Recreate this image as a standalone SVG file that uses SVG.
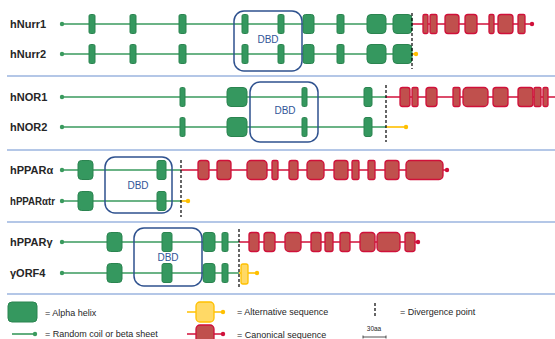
<svg xmlns="http://www.w3.org/2000/svg" width="555" height="339" viewBox="0 0 555 339">
<style>
.lbl{font-family:"Liberation Sans",Arial,sans-serif;font-size:11px;font-weight:bold;fill:#262626}
.leg{font-family:"Liberation Sans",Arial,sans-serif;font-size:9px;fill:#262626}
.dbdt{font-family:"Liberation Sans",Arial,sans-serif;font-size:10px;fill:#2f5597;text-anchor:middle}
.gl{stroke:#3a9a5e;stroke-width:1.6;fill:none}
.rl{stroke:#d0103a;stroke-width:1.6;fill:none}
.yl{stroke:#ffc000;stroke-width:1.6;fill:none}
.g rect,rect.g{fill:#35985f;stroke:#2b8450;stroke-width:1}
.r rect,rect.r{fill:#c0504d;stroke:#d0103a;stroke-width:1.3}
rect.y{fill:#ffd966;stroke:#ffc000;stroke-width:1.3}
.gd{fill:#3a9a5e}
.rd{fill:#d0103a}
.yd{fill:#ffc000}
.dbd{fill:none;stroke:#2f528f;stroke-width:1.5}
.div{stroke:#000;stroke-width:1.2;stroke-dasharray:3,2}
.sep{stroke:#b4c7e7;stroke-width:2}
</style>

<g id="separators">
<line class="sep" x1="7" y1="76" x2="555" y2="76"/>
<line class="sep" x1="7" y1="150" x2="555" y2="150"/>
<line class="sep" x1="7" y1="222" x2="555" y2="222"/>
<line class="sep" x1="7" y1="294" x2="555" y2="294"/>
</g>

<!-- hNurr -->
<g id="hNurr1">
<text class="lbl" x="10" y="28">hNurr1</text>
<line class="gl" x1="62" y1="24" x2="412" y2="24"/>
<circle class="gd" cx="62" cy="24" r="2.2"/>
<line class="rl" x1="412" y1="24" x2="532" y2="24"/>
<circle class="rd" cx="532" cy="24" r="2.2"/>
<g class="g">
<rect x="89" y="14.5" width="6" height="19" rx="1.5"/>
<rect x="130" y="14.5" width="6" height="19" rx="1.5"/>
<rect x="179" y="14.5" width="7" height="19" rx="1.5"/>
<rect x="242" y="14.5" width="6" height="19" rx="1.5"/>
<rect x="278" y="14.5" width="6" height="19" rx="1.5"/>
<rect x="303" y="14.5" width="11" height="19" rx="2.5"/>
<rect x="337" y="14.5" width="7" height="19" rx="1.5"/>
<rect x="367" y="14.5" width="19" height="19" rx="4"/>
<rect x="393" y="14.5" width="19" height="19" rx="4"/>
</g>
<g class="r">
<rect x="423" y="14.5" width="5" height="19" rx="1.5"/>
<rect x="430" y="14.5" width="7" height="19" rx="1.5"/>
<rect x="445" y="14.5" width="14" height="19" rx="3"/>
<rect x="465" y="14.5" width="12" height="19" rx="3"/>
<rect x="489" y="14.5" width="5" height="19" rx="1.5"/>
<rect x="498" y="14.5" width="15" height="19" rx="3"/>
<rect x="518" y="14.5" width="7" height="19" rx="1.5"/>
</g>
</g>
<g id="hNurr2">
<text class="lbl" x="10" y="58">hNurr2</text>
<line class="gl" x1="62" y1="54" x2="412" y2="54"/>
<circle class="gd" cx="62" cy="54" r="2.2"/>
<line class="yl" x1="412" y1="54" x2="416" y2="54"/>
<circle class="yd" cx="416" cy="54" r="2.2"/>
<g class="g">
<rect x="89" y="44.5" width="6" height="19" rx="1.5"/>
<rect x="130" y="44.5" width="6" height="19" rx="1.5"/>
<rect x="179" y="44.5" width="7" height="19" rx="1.5"/>
<rect x="242" y="44.5" width="6" height="19" rx="1.5"/>
<rect x="278" y="44.5" width="6" height="19" rx="1.5"/>
<rect x="303" y="44.5" width="11" height="19" rx="2.5"/>
<rect x="337" y="44.5" width="7" height="19" rx="1.5"/>
<rect x="367" y="44.5" width="19" height="19" rx="4"/>
<rect x="393" y="44.5" width="19" height="19" rx="4"/>
</g>
</g>
<g id="dbd-nurr">
<rect class="dbd" x="234" y="11" width="68" height="60" rx="10"/>
<text class="dbdt" x="268" y="43">DBD</text>
</g>
<line id="div-nurr" class="div" x1="412" y1="13" x2="412" y2="69"/>

<!-- hNOR -->
<g id="hNOR1">
<text class="lbl" x="10" y="101">hNOR1</text>
<line class="gl" x1="62" y1="97" x2="386" y2="97"/>
<circle class="gd" cx="62" cy="97" r="2.2"/>
<line class="rl" x1="386" y1="97" x2="555" y2="97"/>
<g class="g">
<rect x="180" y="87.5" width="5" height="19" rx="1.5"/>
<rect x="227" y="87.5" width="20" height="19" rx="4"/>
<rect x="302" y="87.5" width="5" height="19" rx="1.5"/>
<rect x="364" y="87.5" width="8" height="19" rx="2"/>
</g>
<g class="r">
<rect x="400" y="87.5" width="10" height="19" rx="2.5"/>
<rect x="412" y="87.5" width="6" height="19" rx="1.5"/>
<rect x="426" y="87.5" width="11" height="19" rx="3"/>
<rect x="453" y="87.5" width="7" height="19" rx="1.5"/>
<rect x="463" y="87.5" width="25" height="19" rx="4"/>
<rect x="493" y="87.5" width="15" height="19" rx="3"/>
<rect x="518" y="87.5" width="15" height="19" rx="3"/>
<rect x="534" y="87.5" width="7" height="19" rx="1.5"/>
<rect x="543" y="87.5" width="5" height="19" rx="1.5"/>
</g>
</g>
<g id="hNOR2">
<text class="lbl" x="10" y="131">hNOR2</text>
<line class="gl" x1="62" y1="127" x2="386" y2="127"/>
<circle class="gd" cx="62" cy="127" r="2.2"/>
<line class="yl" x1="386" y1="127" x2="406" y2="127"/>
<circle class="yd" cx="406" cy="127" r="2.2"/>
<g class="g">
<rect x="180" y="117.5" width="5" height="19" rx="1.5"/>
<rect x="227" y="117.5" width="20" height="19" rx="4"/>
<rect x="302" y="117.5" width="5" height="19" rx="1.5"/>
<rect x="364" y="117.5" width="8" height="19" rx="2"/>
</g>
</g>
<g id="dbd-nor">
<rect class="dbd" x="250" y="82" width="68" height="60" rx="10"/>
<text class="dbdt" x="285" y="114">DBD</text>
</g>
<line id="div-nor" class="div" x1="386" y1="85" x2="386" y2="142"/>

<!-- hPPARalpha -->
<g id="hPPARa">
<text class="lbl" x="10" y="174">hPPARα</text>
<line class="gl" x1="62" y1="170" x2="181" y2="170"/>
<circle class="gd" cx="62" cy="170" r="2.2"/>
<line class="rl" x1="181" y1="170" x2="447" y2="170"/>
<circle class="rd" cx="447" cy="170" r="2.2"/>
<g class="g">
<rect x="78" y="160.5" width="15" height="19" rx="3.5"/>
<rect x="157" y="160.5" width="9" height="19" rx="2"/>
</g>
<g class="r">
<rect x="198" y="160.5" width="11" height="19" rx="3"/>
<rect x="217" y="160.5" width="14" height="19" rx="3"/>
<rect x="247" y="160.5" width="20" height="19" rx="4"/>
<rect x="272" y="160.5" width="6" height="19" rx="1.5"/>
<rect x="289" y="160.5" width="9" height="19" rx="2.5"/>
<rect x="307" y="160.5" width="17" height="19" rx="4"/>
<rect x="334" y="160.5" width="14" height="19" rx="3"/>
<rect x="352" y="160.5" width="7" height="19" rx="1.5"/>
<rect x="368" y="160.5" width="7" height="19" rx="1.5"/>
<rect x="385" y="160.5" width="14" height="19" rx="3"/>
<rect x="406" y="160.5" width="37" height="19" rx="4"/>
</g>
</g>
<g id="hPPARatr">
<text class="lbl" x="10" y="205" textLength="45" lengthAdjust="spacingAndGlyphs">hPPARαtr</text>
<line class="gl" x1="62" y1="201" x2="181" y2="201"/>
<circle class="gd" cx="62" cy="201" r="2.2"/>
<line class="yl" x1="181" y1="201" x2="188" y2="201"/>
<circle class="yd" cx="188" cy="201" r="2.2"/>
<g class="g">
<rect x="78" y="191.5" width="15" height="19" rx="3.5"/>
<rect x="157" y="191.5" width="9" height="19" rx="2"/>
</g>
</g>
<g id="dbd-ppara">
<rect class="dbd" x="105" y="157" width="67" height="56" rx="10"/>
<text class="dbdt" x="138" y="189">DBD</text>
</g>
<line id="div-ppara" class="div" x1="181" y1="160" x2="181" y2="217"/>

<!-- hPPARgamma -->
<g id="hPPARg">
<text class="lbl" x="10" y="246">hPPARγ</text>
<line class="gl" x1="62" y1="242" x2="239" y2="242"/>
<circle class="gd" cx="62" cy="242" r="2.2"/>
<line class="rl" x1="239" y1="242" x2="418" y2="242"/>
<circle class="rd" cx="418" cy="242" r="2.2"/>
<g class="g">
<rect x="107" y="232.5" width="15" height="19" rx="3.5"/>
<rect x="162" y="232.5" width="10" height="19" rx="2"/>
<rect x="203" y="232.5" width="12" height="19" rx="3"/>
<rect x="222" y="232.5" width="6" height="19" rx="1.5"/>
</g>
<g class="r">
<rect x="249" y="232.5" width="10" height="19" rx="2.5"/>
<rect x="264" y="232.5" width="11" height="19" rx="3"/>
<rect x="285" y="232.5" width="16" height="19" rx="4"/>
<rect x="311" y="232.5" width="10" height="19" rx="2.5"/>
<rect x="325" y="232.5" width="8" height="19" rx="2"/>
<rect x="340" y="232.5" width="10" height="19" rx="2.5"/>
<rect x="360" y="232.5" width="15" height="19" rx="3.5"/>
<rect x="377" y="232.5" width="23" height="19" rx="4"/>
<rect x="405" y="232.5" width="10" height="19" rx="2.5"/>
</g>
</g>
<g id="yORF4">
<text class="lbl" x="10" y="277">γORF4</text>
<line class="gl" x1="62" y1="273" x2="239" y2="273"/>
<circle class="gd" cx="62" cy="273" r="2.2"/>
<line class="yl" x1="239" y1="273" x2="257" y2="273"/>
<circle class="yd" cx="257" cy="273" r="2.2"/>
<g class="g">
<rect x="107" y="263.5" width="15" height="19" rx="3.5"/>
<rect x="162" y="263.5" width="10" height="19" rx="2"/>
<rect x="203" y="263.5" width="12" height="19" rx="3"/>
<rect x="222" y="263.5" width="6" height="19" rx="1.5"/>
</g>
<rect class="y" x="241" y="264" width="7" height="20" rx="2"/>
</g>
<g id="dbd-pparg">
<rect class="dbd" x="134" y="228" width="68" height="58" rx="10"/>
<text class="dbdt" x="168" y="261">DBD</text>
</g>
<line id="div-pparg" class="div" x1="239" y1="229" x2="239" y2="287"/>

<!-- legend -->
<g id="legend">
<rect class="g" x="8" y="302" width="29" height="20" rx="4"/>
<text class="leg" x="45" y="316">= Alpha helix</text>
<line class="gl" x1="12" y1="334" x2="35" y2="334"/>
<circle class="gd" cx="35" cy="334" r="2.2"/>
<text class="leg" x="45" y="337">= Random coil or beta sheet</text>

<line class="yl" x1="187" y1="312" x2="223" y2="312"/>
<rect class="y" x="196" y="302" width="18" height="20" rx="4"/>
<circle class="yd" cx="223" cy="312" r="2.2"/>
<text class="leg" x="237" y="315">= Alternative sequence</text>
<line class="rl" x1="187" y1="334" x2="223" y2="334"/>
<rect class="r" x="196" y="325" width="18" height="20" rx="4"/>
<circle class="rd" cx="223" cy="334" r="2.2"/>
<text class="leg" x="237" y="338">= Canonical sequence</text>

<line class="div" x1="375" y1="303" x2="375" y2="317"/>
<text class="leg" x="400" y="315">= Divergence point</text>
<text class="leg" x="374" y="331" text-anchor="middle" style="font-size:6.5px">30aa</text>
<path d="M363 337H386M363 335.5V338.5M386 335.5V338.5" stroke="#262626" stroke-width="0.8" fill="none"/>
</g>
</svg>
